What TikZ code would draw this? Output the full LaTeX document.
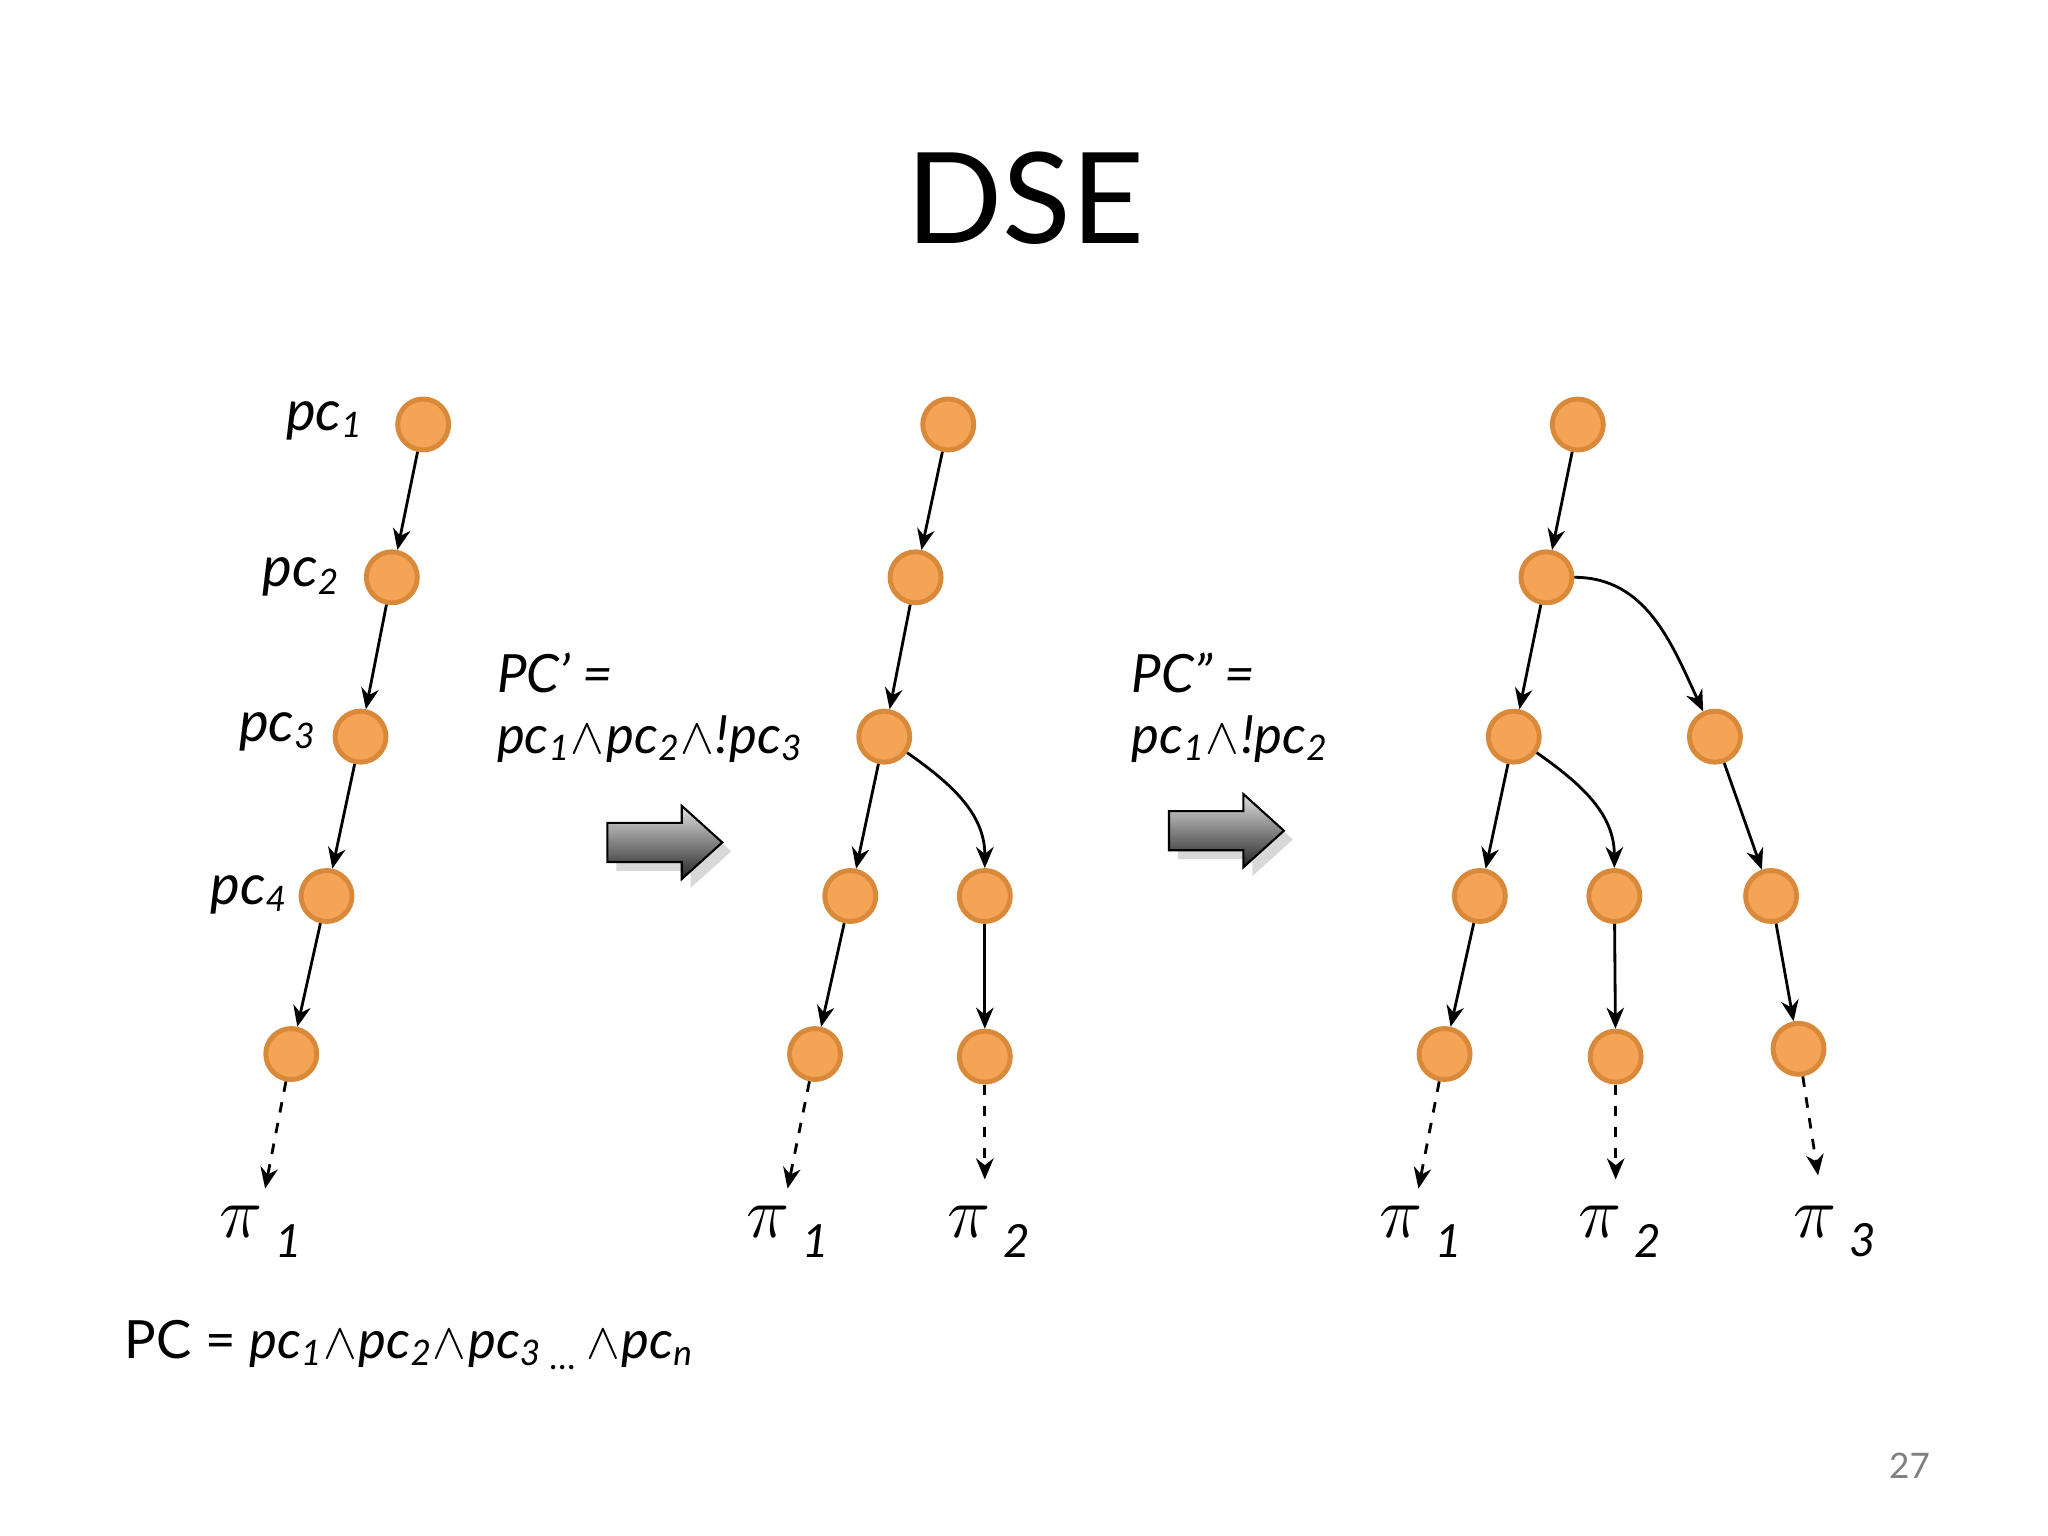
\documentclass[tikz,border=0pt]{standalone}
\usepackage{fontspec}
\setmainfont{Lato}
\usetikzlibrary{arrows.meta,shadows}
\definecolor{nodefill}{HTML}{F5A455}
\definecolor{nodeline}{HTML}{D9893A}
\tikzset{
  nd/.style={circle,fill=nodefill,draw=nodeline,line width=1.4pt,minimum size=14.5pt,inner sep=0pt},
  ed/.style={-{Stealth[length=6pt,width=5pt]},line width=0.8pt},
  ded/.style={ed,dashed},
  lab/.style={font=\fontsize{15}{18}\selectfont\itshape,inner sep=0pt},
  pil/.style={font=\fontsize{17}{18}\selectfont,inner sep=0pt},
  bigarrow/.style={top color=gray!25,bottom color=black!85,draw=black,line width=0.6pt,drop shadow={opacity=0.3}},
}
\newcommand{\pcs}[1]{\textit{pc}\raisebox{-0.25ex}{\fontsize{10}{12}\selectfont\textit{#1}}}
\newcommand{\andd}{\kern0.5pt$\wedge$\kern0.5pt}
\newcommand{\pisub}[1]{\fontsize{22}{24}\selectfont$\pi$\,\raisebox{-0.5ex}{\fontsize{13}{14}\selectfont\textit{#1}}}
\begin{document}
\begin{tikzpicture}[x=0.013061cm,y=-0.013061cm]
\useasboundingbox[fill=white] (0,0) rectangle (1568,1176);
\node[font=\fontsize{36}{40}\selectfont] (title) at (785,152) {DSE};
% tree 1
\node[nd] (a1) at (324,325) {};
\node[nd] (a2) at (300,442) {};
\node[nd] (a3) at (276,564) {};
\node[nd] (a4) at (250,686) {};
\node[nd] (a5) at (223,807) {};
\coordinate (ae) at (203,910);
\draw[ed] (a1) -- (a2); \draw[ed] (a2) -- (a3); \draw[ed] (a3) -- (a4); \draw[ed] (a4) -- (a5);
\draw[ded] (a5) -- (ae);
\node[pil] (ap) at (200,943) {\pisub{1}};
\node[lab,font=\fontsize{16}{18}\selectfont\itshape] (l1) at (248,322) {\pcs{1}};
\node[lab,font=\fontsize{16}{18}\selectfont\itshape] (l2) at (230,442) {\pcs{2}};
\node[lab,font=\fontsize{16}{18}\selectfont\itshape] (l3) at (212,560) {\pcs{3}};
\node[lab,font=\fontsize{16}{18}\selectfont\itshape] (l4) at (190,685) {\pcs{4}};
% tree 2
\node[nd] (b1) at (726,325) {};
\node[nd] (b2) at (701,442) {};
\node[nd] (b3) at (677,564) {};
\node[nd] (b4) at (651,686) {};
\node[nd] (b5) at (754,686) {};
\node[nd] (b6) at (624,807) {};
\node[nd] (b7) at (754,809) {};
\coordinate (be1) at (603,910);
\coordinate (be2) at (754,903);
\draw[ed] (b1) -- (b2); \draw[ed] (b2) -- (b3); \draw[ed] (b3) -- (b4); \draw[ed] (b4) -- (b6);
\draw[ed] (b3) to[out=-35,in=90] (b5);
\draw[ed] (b5) -- (b7);
\draw[ded] (b6) -- (be1); \draw[ded] (b7) -- (be2);
\node[pil] (bp1) at (603,943) {\pisub{1}};
\node[pil] (bp2) at (757,943) {\pisub{2}};
\node[lab,anchor=west] (pc1) at (380,515) {PC’ =};
\node[lab,anchor=west] (pc1b) at (380,566) {\pcs{1}\andd\pcs{2}\andd!\pcs{3}};
\path[bigarrow] (465,630) -- (522,630) -- (522,617) -- (553,645) -- (522,673) -- (522,660) -- (465,660) -- cycle;
% tree 3
\node[nd] (c1) at (1208,325) {};
\node[nd] (c2) at (1184,442) {};
\node[nd] (c3) at (1159,564) {};
\node[nd] (c4) at (1313,564) {};
\node[nd] (c5) at (1133,686) {};
\node[nd] (c6) at (1236,686) {};
\node[nd] (c7) at (1356,686) {};
\node[nd] (c8) at (1106,807) {};
\node[nd] (c9) at (1237,809) {};
\node[nd] (c10) at (1377,803) {};
\coordinate (ce1) at (1086,910);
\coordinate (ce2) at (1237,903);
\coordinate (ce3) at (1392,900);
\draw[ed] (c1) -- (c2); \draw[ed] (c2) -- (c3);
\draw[ed] (c2.east) to[out=0,in=115] (c4);
\draw[ed] (c3) -- (c5); \draw[ed] (c3) to[out=-35,in=90] (c6);
\draw[ed] (c4) -- (c7);
\draw[ed] (c5) -- (c8); \draw[ed] (c6) -- (c9); \draw[ed] (c7) -- (c10);
\draw[ded] (c8) -- (ce1); \draw[ded] (c9) -- (ce2); \draw[ded] (c10) -- (ce3);
\node[pil] (cp1) at (1088,943) {\pisub{1}};
\node[pil] (cp2) at (1240,943) {\pisub{2}};
\node[pil] (cp3) at (1405,943) {\pisub{3}};
\node[lab,anchor=west] (pc2) at (866,515) {PC” =};
\node[lab,anchor=west] (pc2b) at (866,566) {\pcs{1}\andd!\pcs{2}};
\path[bigarrow] (895,621) -- (952,621) -- (952,608) -- (983,636) -- (952,664) -- (952,651) -- (895,651) -- cycle;
% bottom
\node[anchor=west,font=\fontsize{15}{18}\selectfont,inner sep=0pt] (pcall) at (95,1030) {PC = \pcs{1}\andd\pcs{2}\andd\pcs{3}\,\raisebox{-0.4ex}{\fontsize{10}{12}\selectfont …}\,\andd\pcs{n}};
\node[font=\fontsize{10}{12}\selectfont,text=gray] (pg) at (1462,1122) {27};
\end{tikzpicture}
\end{document}
